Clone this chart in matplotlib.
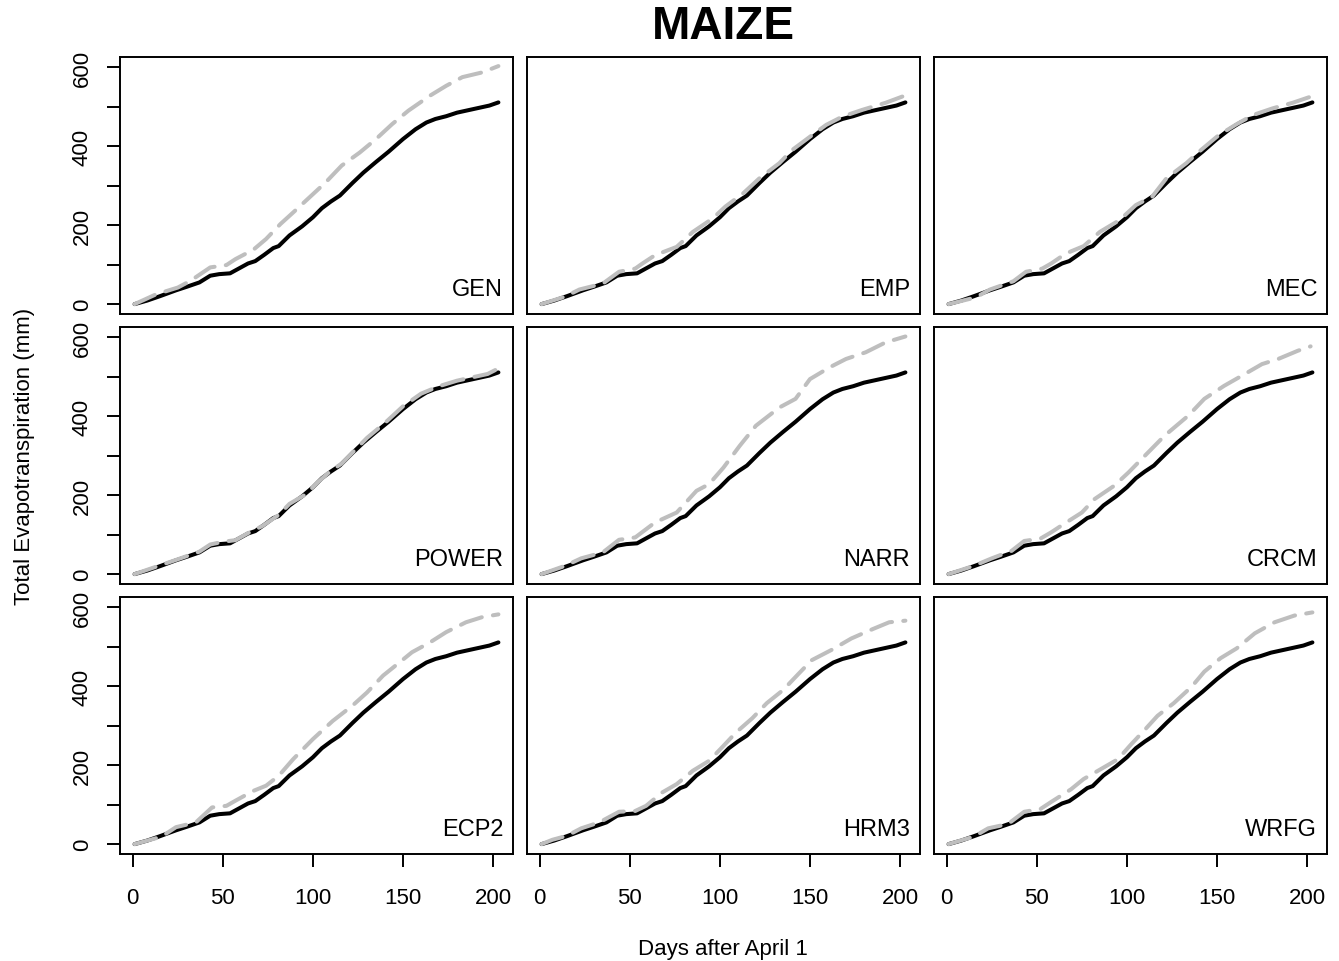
import matplotlib.pyplot as plt

plt.rcParams['font.family'] = ['Liberation Sans', 'DejaVu Sans']

# observed cumulative ET (black line, same in every panel)
obs_days = [1, 8, 15, 24, 30, 37, 43, 48, 54, 60, 64, 68, 73, 78, 81, 87, 94, 100, 105, 110,
            115, 122, 128, 135, 142, 150, 157, 163, 168, 174, 180, 186, 192, 198, 203]
obs_et = [0, 9, 20, 35, 44, 55, 72, 76, 78, 93, 103, 109, 125, 142, 147, 174, 197, 220, 243, 260,
          275, 307, 333, 360, 386, 418, 443, 460, 469, 476, 485, 491, 497, 503, 511]

# simulated cumulative ET per weather source (grey dashed)
gen_days = [1, 13, 25, 32, 43, 52, 57, 67, 74, 82, 89, 98, 107, 116, 126, 135, 144, 153, 165, 174, 183, 194, 203]
gen_et = [0, 25, 42, 59, 93, 99, 114, 138, 165, 203, 232, 270, 308, 351, 384, 418, 456, 490, 528, 553, 575, 587, 603]

emp_days = [1, 14, 22, 35, 44, 53, 57, 64, 76, 85, 96, 103, 113, 122, 133, 140, 150, 159, 168, 179, 192, 202]
emp_et = [0, 19, 37, 52, 82, 90, 103, 124, 145, 183, 217, 247, 281, 319, 357, 390, 424, 454, 475, 492, 510, 527]

mec_days = [1, 16, 24, 37, 44, 53, 58, 66, 76, 85, 96, 105, 114, 122, 133, 140, 151, 161, 170, 181, 192, 203]
mec_et = [0, 17, 37, 58, 82, 90, 103, 128, 147, 183, 213, 251, 272, 319, 357, 386, 428, 456, 479, 496, 510, 527]

power_days = [1, 15, 24, 37, 43, 50, 57, 64, 72, 81, 87, 96, 103, 110, 116, 122, 130, 140, 150, 160,
              170, 180, 190, 197, 203]
power_et = [0, 22, 36, 57, 75, 82, 86, 104, 122, 150, 178, 202, 234, 262, 280, 308, 345, 383, 425, 457,
            476, 490, 500, 507, 521]

narr_days = [1, 14, 23, 35, 44, 53, 64, 76, 87, 94, 102, 111, 120, 133, 142, 150, 161, 170, 181, 192, 203]
narr_et = [0, 21, 40, 55, 87, 93, 131, 156, 211, 228, 270, 325, 376, 422, 444, 494, 524, 545, 562, 587, 602]

crcm_days = [1, 15, 25, 36, 43, 52, 58, 65, 75, 82, 93, 101, 110, 121, 134, 143, 154, 164, 175, 184, 195, 202]
crcm_et = [0, 21, 40, 59, 84, 90, 106, 127, 156, 190, 224, 258, 300, 351, 401, 444, 477, 503, 532, 545, 566, 577]

ecp2_days = [1, 16, 24, 35, 44, 52, 57, 67, 74, 81, 89, 100, 111, 122, 130, 139, 148, 155, 165, 174, 185, 194, 203]
ecp2_et = [0, 19, 43, 55, 93, 97, 110, 135, 148, 173, 215, 266, 312, 351, 384, 427, 460, 486, 511, 537, 562, 575, 582]

hrm3_days = [1, 7, 15, 23, 33, 44, 53, 59, 68, 76, 85, 94, 102, 109, 118, 126, 135, 144, 151, 162,
             173, 185, 194, 203]
hrm3_et = [0, 11, 21, 40, 55, 82, 84, 97, 131, 152, 186, 211, 249, 283, 319, 357, 390, 433, 466, 492,
           521, 545, 562, 566]

wrfg_days = [1, 15, 23, 34, 43, 52, 58, 69, 76, 84, 95, 102, 110, 117, 126, 136, 143, 152, 161, 171, 182, 193, 203]
wrfg_et = [0, 19, 40, 51, 82, 89, 107, 139, 165, 186, 215, 251, 290, 325, 357, 399, 437, 471, 496, 534, 562, 579, 587]

names = ['GEN', 'EMP', 'MEC', 'POWER', 'NARR', 'CRCM', 'ECP2', 'HRM3', 'WRFG']
sim_days = [gen_days, emp_days, mec_days, power_days, narr_days, crcm_days, ecp2_days, hrm3_days, wrfg_days]
sim_et = [gen_et, emp_et, mec_et, power_et, narr_et, crcm_et, ecp2_et, hrm3_et, wrfg_et]

W, H = 1339, 962
lefts = [120, 527, 934]
tops = [58, 328, 598]
pw, ph = 393, 257

fig = plt.figure(figsize=(W / 100, H / 100), dpi=100)

for i in range(9):
    r, c = divmod(i, 3)
    ax = fig.add_axes([lefts[c] / W, 1 - (tops[r] + ph) / H, pw / W, ph / H])
    ax.plot(obs_days, obs_et, color='black', lw=2.9,
            solid_capstyle='round', solid_joinstyle='round')
    ax.plot(sim_days[i], sim_et[i], color='#BEBEBE', lw=2.9, dashes=(5.5, 2.8),
            dash_capstyle='round', dash_joinstyle='round')
    ax.set_xlim(-7.1, 211.1)
    ax.set_ylim(-25, 626)
    for s in ax.spines.values():
        s.set_linewidth(1.4)
    ax.text(0.975, 0.097, names[i], transform=ax.transAxes, ha='right', va='center', fontsize=17)

    ax.tick_params(length=9.5, width=1.4, labelsize=16)
    if r == 2:
        ax.set_xticks([0, 50, 100, 150, 200])
        ax.tick_params(axis='x', pad=14)
    else:
        ax.set_xticks([])
    if c == 0:
        ax.set_yticks([0, 200, 400, 600])
        ax.set_yticks([100, 300, 500], minor=True)
        ax.tick_params(axis='y', which='both', length=9.5, width=1.4, pad=10)
        for lab in ax.get_yticklabels():
            lab.set_rotation(90)
            lab.set_va('center')
    else:
        ax.set_yticks([])

fig.text(723 / W, 1 - 27 / H, 'MAIZE', fontsize=33, fontweight='bold', ha='center', va='center')
fig.text(723 / W, 1 - 950 / H, 'Days after April 1', fontsize=16, ha='center', va='center')
fig.text(25 / W, 1 - 456 / H, 'Total Evapotranspiration (mm)', fontsize=16,
         rotation=90, ha='center', va='center')

fig.savefig('out.png', dpi=100)
